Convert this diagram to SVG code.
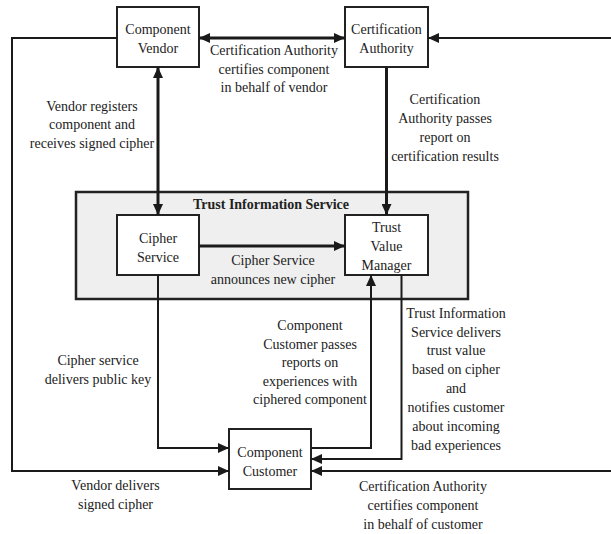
<svg xmlns="http://www.w3.org/2000/svg" width="611" height="534" viewBox="0 0 611 534">
<defs>
<style>
.box{fill:#fff;stroke:#222;stroke-width:2}
.tis{fill:#eeefee;stroke:#222;stroke-width:2.5}
.t{font-family:"Liberation Serif","Times New Roman",serif;font-size:14px;fill:#222;text-anchor:middle}
.b{font-weight:bold}
.thick{fill:none;stroke:#1a1a1a;stroke-width:3}
.thin{fill:none;stroke:#1a1a1a;stroke-width:2}
</style>
<marker id="ah" markerUnits="userSpaceOnUse" markerWidth="12" markerHeight="10" refX="11" refY="5" orient="auto-start-reverse">
<path d="M0,0 L11,5 L0,10 Z" fill="#1a1a1a"/>
</marker>
</defs>
<rect width="611" height="534" fill="#fff"/>

<g id="tis">
<rect class="tis" x="76" y="192" width="392" height="107"/>
<text class="t b" x="271" y="209">Trust Information Service</text>
</g>

<g id="vendor">
<rect class="box" x="117" y="7" width="82" height="60"/>
<text class="t" x="158" y="34">Component</text>
<text class="t" x="158" y="53">Vendor</text>
</g>

<g id="ca">
<rect class="box" x="345" y="7" width="83" height="60"/>
<text class="t" x="386.5" y="34">Certification</text>
<text class="t" x="386.5" y="53">Authority</text>
</g>

<g id="cipher">
<rect class="box" x="117" y="215" width="82" height="60"/>
<text class="t" x="158" y="243">Cipher</text>
<text class="t" x="158" y="262">Service</text>
</g>

<g id="tvm">
<rect class="box" x="345" y="215" width="83" height="60"/>
<text class="t" x="386.5" y="232">Trust</text>
<text class="t" x="386.5" y="251">Value</text>
<text class="t" x="386.5" y="270">Manager</text>
</g>

<g id="customer">
<rect class="box" x="229" y="429" width="82" height="60"/>
<text class="t" x="270" y="457">Component</text>
<text class="t" x="270" y="476">Customer</text>
</g>

<g id="connectors">
<path class="thick" d="M199,38 H345" marker-start="url(#ah)" marker-end="url(#ah)"/>
<path class="thin" d="M611,38 H428" marker-end="url(#ah)"/>
<path class="thin" d="M117,38 H12 V471 H229" marker-end="url(#ah)"/>
<path class="thick" d="M158,67 V215" marker-start="url(#ah)" marker-end="url(#ah)"/>
<path class="thick" d="M386.5,67 V215" marker-end="url(#ah)"/>
<path class="thick" d="M199,246 H345" marker-end="url(#ah)"/>
<path class="thin" d="M158,275 V448 H229" marker-end="url(#ah)"/>
<path class="thin" d="M311,448 H371 V275" marker-end="url(#ah)"/>
<path class="thin" d="M401.5,275 V459 H311" marker-end="url(#ah)"/>
<path class="thin" d="M611,471 H311" marker-end="url(#ah)"/>
</g>

<g id="labels">
<text class="t" x="274" y="55">Certification Authority</text>
<text class="t" x="274" y="73.5">certifies component</text>
<text class="t" x="274" y="92">in behalf of vendor</text>

<text class="t" x="92" y="110.5">Vendor registers</text>
<text class="t" x="92" y="129">component and</text>
<text class="t" x="92" y="147.5">receives signed cipher</text>

<text class="t" x="445" y="104">Certification</text>
<text class="t" x="445" y="123">Authority passes</text>
<text class="t" x="445" y="142">report on</text>
<text class="t" x="445" y="161">certification results</text>

<text class="t" x="273" y="265">Cipher Service</text>
<text class="t" x="273" y="283.5">announces new cipher</text>

<text class="t" x="456" y="317.5">Trust Information</text>
<text class="t" x="456" y="336.5">Service delivers</text>
<text class="t" x="456" y="355">trust value</text>
<text class="t" x="456" y="373.5">based on cipher</text>
<text class="t" x="456" y="392.5">and</text>
<text class="t" x="456" y="411.5">notifies customer</text>
<text class="t" x="456" y="430.5">about incoming</text>
<text class="t" x="456" y="449.5">bad experiences</text>

<text class="t" x="310" y="330">Component</text>
<text class="t" x="310" y="348.5">Customer passes</text>
<text class="t" x="310" y="367">reports on</text>
<text class="t" x="310" y="385.5">experiences with</text>
<text class="t" x="310" y="404">ciphered component</text>

<text class="t" x="98" y="365">Cipher service</text>
<text class="t" x="98" y="384">delivers public key</text>

<text class="t" x="115.5" y="490">Vendor delivers</text>
<text class="t" x="115.5" y="509">signed cipher</text>

<text class="t" x="423" y="491">Certification Authority</text>
<text class="t" x="423" y="510">certifies component</text>
<text class="t" x="423" y="528.5">in behalf of customer</text>
</g>
</svg>
